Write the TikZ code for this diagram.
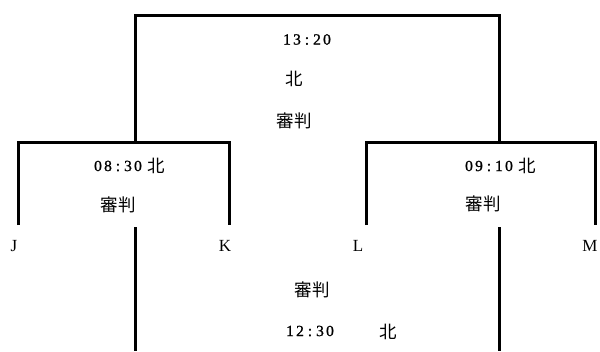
\documentclass[tikz,border=0pt]{standalone}
\usepackage{fontspec}
\setmainfont{Liberation Serif}
\newfontfamily\cjk{Noto Sans CJK JP}
\newfontfamily\digf[FakeBold=1.2]{Liberation Serif}
\newcommand\dg[1]{\makebox[10pt]{#1}}
\newcommand\tim[5]{\dg{#1}\dg{#2}\dg{#3}\dg{#4}\dg{#5}}
\begin{document}
\begin{tikzpicture}[x=1pt,y=-1pt,
  br/.style={line width=3pt,line join=miter,line cap=butt},
  kj/.style={font=\cjk\fontsize{17.5}{20}\selectfont,inner sep=0pt},
  tm/.style={font=\digf\fontsize{15.5}{17}\selectfont,inner sep=0pt},
  lt/.style={font=\fontsize{17}{19}\selectfont,inner sep=0pt}]
\useasboundingbox (0,0) rectangle (600,351);
% coordinates
\coordinate (A) at (135,15);  \coordinate (B) at (499,15);
\coordinate (A2) at (135,142); \coordinate (B2) at (499,142);
\coordinate (L1) at (18,142);  \coordinate (L2) at (229,142);
\coordinate (R1) at (366,142); \coordinate (R2) at (595,142);
\coordinate (L1b) at (18,225); \coordinate (L2b) at (229,225);
\coordinate (R1b) at (366,225); \coordinate (R2b) at (595,225);
\coordinate (D1) at (135,227); \coordinate (D1b) at (135,351);
\coordinate (D2) at (499,227); \coordinate (D2b) at (499,351);
% brackets
\draw[br] (A2) -- (A) -- (B) -- (B2);
\draw[br] (L1b) -- (L1) -- (L2) -- (L2b);
\draw[br] (R1b) -- (R1) -- (R2) -- (R2b);
\draw[br] (D1) -- (D1b);
\draw[br] (D2) -- (D2b);
% top texts
\node[tm] (t1) at (307,39.5) {\tim13:20};
\node[kj] (n1) at (294,79) {北};
\node[kj] (s1) at (294,121) {審判};
% left
\node[tm] (t2) at (118,166) {\tim08:30};
\node[kj] (n2) at (156,166) {北};
\node[kj] (s2) at (118,205) {審判};
% right
\node[tm] (t3) at (489,166) {\tim09:10};
\node[kj] (n3) at (527,166) {北};
\node[kj] (s3) at (483,204) {審判};
% bottom
\node[kj] (s4) at (312,290) {審判};
\node[tm] (t4) at (310,331) {\tim12:30};
\node[kj] (n4) at (388,332) {北};
% letters
\node[lt] (J) at (14,246) {J};
\node[lt] (K) at (225,246) {K};
\node[lt] (L) at (358,246) {L};
\node[lt] (M) at (590,246) {M};
\end{tikzpicture}
\end{document}
